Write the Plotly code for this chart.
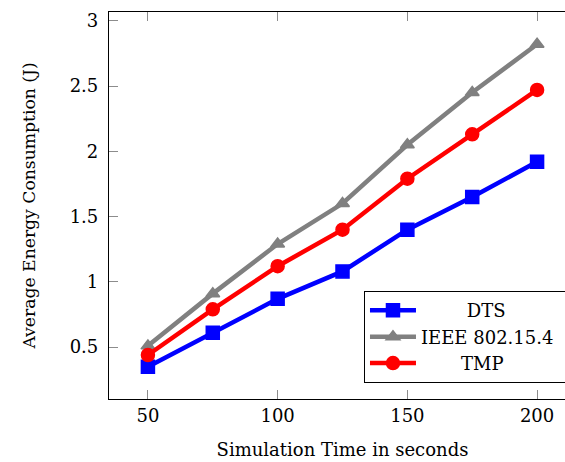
import plotly.graph_objects as go

sim_time = [50, 75, 100, 125, 150, 175, 200]
dts = [0.35, 0.61, 0.87, 1.08, 1.40, 1.65, 1.92]
ieee = [0.51, 0.91, 1.29, 1.60, 2.05, 2.45, 2.82]
tmp = [0.44, 0.79, 1.12, 1.40, 1.79, 2.13, 2.47]

series_names = ["DTS", "IEEE 802.15.4", "TMP"]
x_ticks = [50, 100, 150, 200]
y_ticks = [0.5, 1, 1.5, 2, 2.5, 3]
y_tick_text = ["0.5", "1", "1.5", "2", "2.5", "3"]

FONT = "DejaVu Serif"
NB = "\u00a0"
pads_left = [8, 0, 7]
pads_right = [0, 2, 0]

styles = [
    dict(color="#0000ff", symbol="square", size=13),
    dict(color="#808080", symbol="triangle-up", size=12),
    dict(color="#ff0000", symbol="circle", size=13),
]

fig = go.Figure()
for i, (name, ys) in enumerate(zip(series_names, [dts, ieee, tmp])):
    st = styles[i]
    fig.add_trace(go.Scatter(
        x=sim_time, y=ys, mode="lines+markers",
        name=NB * pads_left[i] + name + NB * pads_right[i],
        legendgroup=str(i),
        line=dict(color=st["color"], width=4.5),
        marker=dict(symbol=st["symbol"], size=st["size"], color=st["color"],
                    line=dict(width=1.5, color=st["color"])),
    ))

# The axis box extends slightly past the right edge of the window,
# as in the reference (its right side is cropped off).
fig.update_layout(
    width=576, height=462,
    margin=dict(l=109, r=0, t=12, b=63),
    paper_bgcolor="white", plot_bgcolor="white",
    font=dict(family=FONT, size=18, color="black"),
    showlegend=True,
    legend=dict(
        x=0.546, y=0.279, xanchor="left", yanchor="top",
        bordercolor="black", borderwidth=1, bgcolor="white",
        font=dict(family=FONT, size=18),
        itemwidth=46, traceorder="grouped", tracegroupgap=0,
    ),
    xaxis=dict(
        range=[35, 215], tickvals=x_ticks, ticks="inside", ticklen=9,
        tickcolor="#8c8c8c", tickwidth=1, showline=True, linecolor="black",
        linewidth=1.2, mirror="ticks", showgrid=False, zeroline=False,
        automargin=False, ticklabelstandoff=0,
        title=dict(text="Simulation Time in seconds", standoff=18,
                   font=dict(family=FONT, size=18)),
    ),
    yaxis=dict(
        range=[0.103, 3.067], tickvals=y_ticks, ticktext=y_tick_text,
        ticks="inside", ticklen=9, tickcolor="#8c8c8c", tickwidth=1,
        showline=True, linecolor="black", linewidth=1.2, mirror="ticks",
        showgrid=False, zeroline=False, ticklabelstandoff=6,
        automargin=False,
        title=dict(text="Average Energy Consumption (J)", standoff=29,
                   font=dict(family=FONT, size=17.2)),
    ),
)

fig.write_html(
    "out.html",
    config={"displayModeBar": False},
    post_script="document.body.style.margin='0';document.body.style.overflow='hidden';",
)
